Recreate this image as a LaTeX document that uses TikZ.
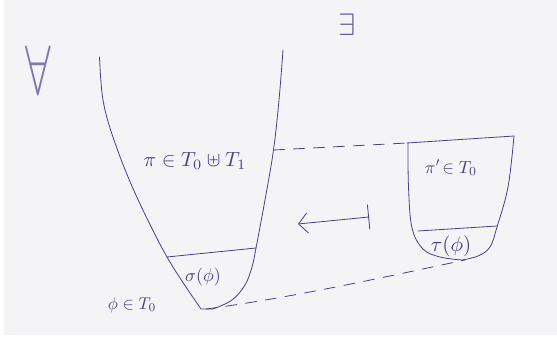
\documentclass[tikz,border=0pt]{standalone}
\usepackage{amsmath,amssymb}
\usetikzlibrary{arrows.meta}
\definecolor{ink}{HTML}{4A3E8C}
\definecolor{paper}{HTML}{F4F3F6}
\begin{document}
\begin{tikzpicture}[x=1pt,y=-1pt,
  pen/.style={draw=ink, line width=0.8pt, line cap=round, line join=round},
  dashline/.style={pen, dash pattern=on 11pt off 9pt},
  lbl/.style={text=ink, inner sep=0pt, scale=1.8}]
\useasboundingbox (0,0) rectangle (557,339);
\fill[white] (0,0) rectangle (557,339);
\fill[paper] (4,0) rectangle (557,335);

% quantifiers
\node[lbl, text=ink!70, xscale=4.6/1.8, yscale=7.0/1.8] (forall) at (38,70) {$\forall$};
\node[lbl, text=ink!85, scale=3.1/1.8] (exists) at (347,25) {$\exists$};

% big cup
\coordinate (bigTopL) at (99.5,57);
\coordinate (bigTopR) at (283,50);
\coordinate (bigMid) at (273.5,150);
\coordinate (bigBot) at (206,309);
\coordinate (sigL) at (167,257);
\coordinate (sigR) at (256,248);
\draw[pen] plot[smooth, tension=0.6] coordinates {(99.5,57) (103,100) (114,140) (135,193) (167,257) (199,306)}
  -- (201,309) -- (213,309);
\draw[pen] plot[smooth, tension=0.6] coordinates {(213,309) (232,300) (245,285) (252,267) (256,248) (265,200) (273.5,150) (279,100) (283,50)};
\draw[pen] (sigL) -- (sigR);

% small cup
\coordinate (smTopL) at (407,143);
\coordinate (smTopR) at (514,136);
\coordinate (smBot) at (465,260);
\coordinate (tauL) at (418,231);
\coordinate (tauR) at (497,226);
\draw[pen] (smTopL) -- (smTopR);
\draw[pen] plot[smooth, tension=0.6] coordinates {(408,143) (408.5,187) (412,228) (423,249) (440,257) (462,260)};
\draw[pen] plot[smooth, tension=0.6] coordinates {(514,136) (508,187) (497,227) (490,247) (478,256) (462,260)};
\draw[pen] (tauL) -- (tauR);

% dashed connectors
\draw[dashline] (bigMid) -- (smTopL);
\draw[dashline] (bigBot) .. controls (290,298) and (390,276) .. (smBot);

% maps-to arrow
\coordinate (arrS) at (369,217);
\coordinate (arrE) at (298,224);
\draw[pen, {Bar[width=25pt]}-{Straight Barb[length=9pt,width=20pt]}] (arrS) -- (arrE);

% labels
\node[lbl, scale=2.05/1.8] (pi) at (195,161) {$\pi\in T_0\uplus T_1$};
\node[lbl] (sigma) at (203,277) {$\sigma(\phi)$};
\node[lbl, scale=1.7/1.8] (phi) at (132,305) {$\phi\in T_0$};
\node[lbl, scale=1.75/1.8] (pip) at (451,168) {$\pi'\!\in T_0$};
\node[lbl, scale=2.1/1.8] (tau) at (451,246) {$\tau(\phi)$};
\end{tikzpicture}
\end{document}
